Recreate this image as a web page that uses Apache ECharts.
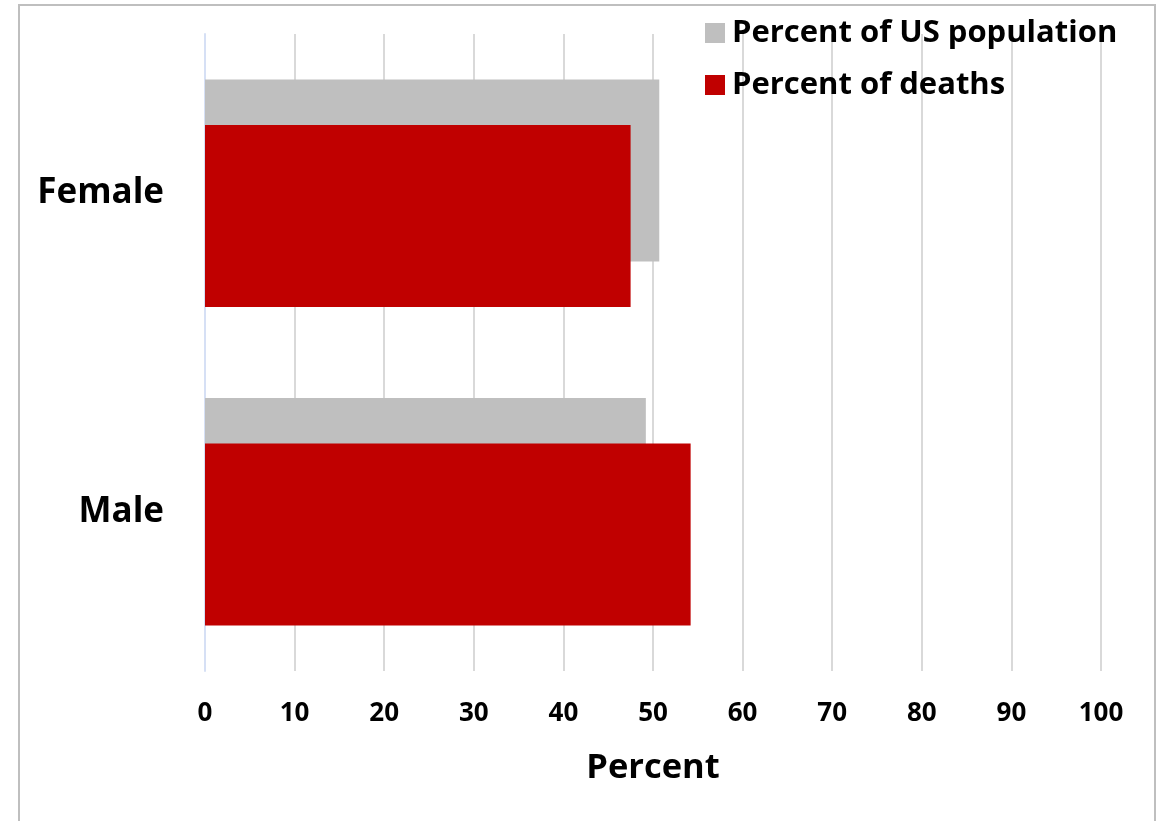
<!DOCTYPE html>
<html>
<head>
    <meta charset="utf-8">
    <title>Percent by sex</title>
    <script src="https://cdn.jsdelivr.net/npm/echarts@6/dist/echarts.min.js"></script>
    <style>
        html, body { margin: 0; padding: 0; background: #fff; }
        #chart { width: 1159px; height: 821px; }
    </style>
</head>
<body>
<div id="chart"></div>
<script>
    var categories = ['Female', 'Male'];
    var populationPct = [50.7, 49.2];
    var deathsPct = [47.5, 54.2];
    var xTicks = [0, 10, 20, 30, 40, 50, 60, 70, 80, 90, 100];

    var font = '"Open Sans", sans-serif';
    var myChart = echarts.init(document.getElementById('chart'));
    var option = {
        animation: false,
        backgroundColor: '#fff',
        graphic: [{
            type: 'rect',
            shape: { x: 19, y: 5, width: 1136, height: 900 },
            style: { fill: 'none', stroke: '#bfbfbf', lineWidth: 2 },
            silent: true
        }],
        legend: {
            orient: 'vertical',
            left: 700,
            top: 11,
            itemWidth: 20,
            itemHeight: 20,
            itemGap: 18,
            icon: 'rect',
            textStyle: { fontFamily: font, fontWeight: 'bold', fontSize: 31, color: '#000', padding: [0, 0, 0, 2], lineHeight: 34 },
            data: ['Percent of US population', 'Percent of deaths']
        },
        grid: { left: 205, right: 58, top: 34, bottom: 150, containLabel: false },
        xAxis: {
            type: 'value',
            min: xTicks[0],
            max: xTicks[xTicks.length - 1],
            interval: 10,
            name: 'Percent',
            nameLocation: 'middle',
            nameGap: 80,
            nameTextStyle: { fontFamily: font, fontWeight: 'bold', fontSize: 34.5, color: '#000' },
            axisLine: { show: false },
            axisTick: { show: false },
            axisLabel: { margin: 30, fontFamily: font, fontWeight: 'bold', fontSize: 26, color: '#000' },
            splitLine: { show: true, lineStyle: { color: '#d9d9d9', width: 2 } }
        },
        yAxis: {
            type: 'category',
            inverse: true,
            data: categories,
            axisLine: { show: true, lineStyle: { color: '#d6e0f5', width: 2 } },
            axisTick: { show: false },
            axisLabel: { margin: 41, fontFamily: font, fontWeight: 'bold', fontSize: 35, color: '#000' }
        },
        series: [
            {
                name: 'Percent of US population',
                type: 'bar',
                data: populationPct,
                barWidth: 182,
                barGap: '-75%',
                itemStyle: { color: '#bfbfbf' }
            },
            {
                name: 'Percent of deaths',
                type: 'bar',
                data: deathsPct,
                barWidth: 182,
                itemStyle: { color: '#c00000' },
                z: 3
            }
        ]
    };
    myChart.setOption(option);
</script>
</body>
</html>
